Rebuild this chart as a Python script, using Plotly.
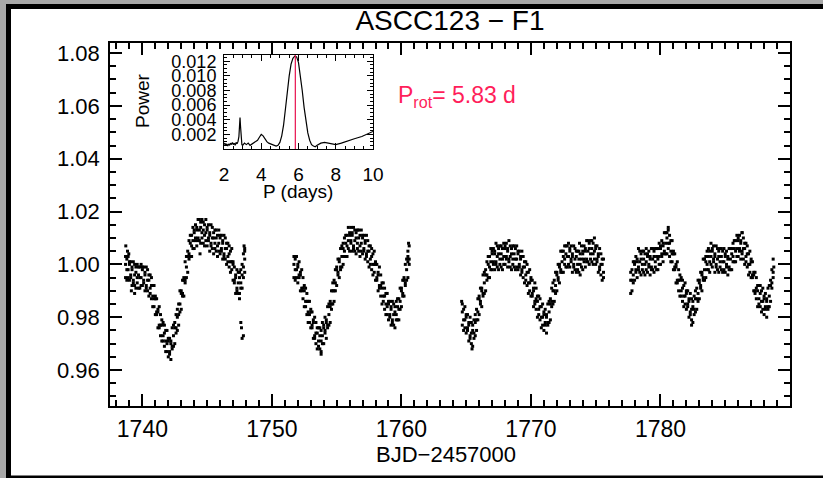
import plotly.graph_objects as go

# ---------------- light curve data (relative flux in ppt offset from 1.0) ----------------
time_s1 = [1738.7, 1738.8, 1738.9, 1739.0, 1739.1, 1739.2, 1739.3, 1739.4, 1739.5, 1739.6,
           1739.7, 1739.8, 1739.9, 1740.0, 1740.1, 1740.2, 1740.3, 1740.4, 1740.5, 1740.6,
           1740.7, 1740.8, 1740.9, 1741.0, 1741.1, 1741.2, 1741.3, 1741.4, 1741.5, 1741.6,
           1741.7, 1741.8, 1741.9, 1742.0, 1742.1, 1742.2, 1742.3, 1742.4, 1742.5, 1742.6,
           1742.7, 1742.8, 1742.9, 1743.0, 1743.1, 1743.2, 1743.3, 1743.4, 1743.5, 1743.6,
           1743.7, 1743.8, 1743.9, 1744.0, 1744.1, 1744.2, 1744.3, 1744.4, 1744.5, 1744.6,
           1744.7, 1744.8, 1744.9, 1745.0, 1745.1, 1745.2, 1745.3, 1745.4, 1745.5, 1745.6,
           1745.7, 1745.8, 1745.9, 1746.0, 1746.1, 1746.2, 1746.3, 1746.4, 1746.5, 1746.6,
           1746.7, 1746.8, 1746.9, 1747.0, 1747.1, 1747.2, 1747.3, 1747.4, 1747.5, 1747.6,
           1747.7, 1747.8, 1747.9]
hi_s1 = [3, 2, 3, 1, 1, -1, 1, 0, -1, 0,
         -1, -1, 0, -1, -1, -3, -1, -2, -4, -4,
         -5, -8, -8, -12, -13, -17, -16, -19, -21, -22,
         -23, -25, -25, -28, -28, -29, -24, -23, -22, -19,
         -17, -15, -10, -10, -6, -5, 1, 3, 5, 9,
         11, 11, 14, 13, 15, 14, 17, 17, 16, 17,
         16, 15, 17, 14, 15, 12, 15, 14, 12, 13,
         13, 11, 13, 11, 11, 9, 11, 10, 8, 8,
         7, 5, 6, 1, -1, -4, -2, -3, -3, -2,
         0, 4, 6]
mid_s1 = [0, -2, -2, 0, -4, -2, -6, -4, -3, -5,
          -4, -5, -5, -2, -6, -4, -8, -6, -6, -9,
          -8, -12, -13, -13, -18, -18, -23, -23, -23, -27,
          -26, -29, -30, -29, -33, -30, -31, -27, -24, -24,
          -20, -19, -15, -11, -11, -6, -6, -1, 3, 4,
          8, 7, 9, 12, 10, 13, 10, 13, 14, 12,
          13, 11, 12, 13, 10, 11, 8, 10, 10, 8,
          10, 7, 8, 10, 6, 8, 4, 6, 6, 3,
          4, 1, 1, 0, -6, -5, -9, -7, -5, -7,
          -4, -1, 2]
lo_s1 = [-5, -6, -5, -6, -5, -8, -7, -8, -9, -7,
         -9, -9, -8, -8, -7, -10, -9, -10, -12, -11,
         -13, -16, -16, -19, -19, -24, -24, -27, -29, -29,
         -31, -33, -33, -35, -34, -36, -32, -31, -30, -26,
         -25, -23, -18, -17, -12, -12, -7, -5, -3, 2,
         3, 3, 6, 6, 9, 7, 9, 9, 8, 10,
         8, 7, 9, 7, 9, 5, 7, 6, 4, 6,
         5, 3, 5, 4, 5, 2, 3, 2, 0, 1,
         -1, -3, -2, -6, -7, -11, -10, -11, -11, -9,
         -9, -5, -3]

time_s2 = [1751.7, 1751.8, 1751.9, 1752.0, 1752.1, 1752.2, 1752.3, 1752.4, 1752.5, 1752.6,
           1752.7, 1752.8, 1752.9, 1753.0, 1753.1, 1753.2, 1753.3, 1753.4, 1753.5, 1753.6,
           1753.7, 1753.8, 1753.9, 1754.0, 1754.1, 1754.2, 1754.3, 1754.4, 1754.5, 1754.6,
           1754.7, 1754.8, 1754.9, 1755.0, 1755.1, 1755.2, 1755.3, 1755.4, 1755.5, 1755.6,
           1755.7, 1755.8, 1755.9, 1756.0, 1756.1, 1756.2, 1756.3, 1756.4, 1756.5, 1756.6,
           1756.7, 1756.8, 1756.9, 1757.0, 1757.1, 1757.2, 1757.3, 1757.4, 1757.5, 1757.6,
           1757.7, 1757.8, 1757.9, 1758.0, 1758.1, 1758.2, 1758.3, 1758.4, 1758.5, 1758.6,
           1758.7, 1758.8, 1758.9, 1759.0, 1759.1, 1759.2, 1759.3, 1759.4, 1759.5, 1759.6,
           1759.7, 1759.8, 1759.9, 1760.0, 1760.1, 1760.2, 1760.3, 1760.4, 1760.5, 1760.6]
hi_s2 = [3, 2, 3, 0, 1, -3, -2, -5, -8, -9,
         -11, -14, -14, -17, -18, -21, -20, -22, -24, -24,
         -24, -25, -22, -23, -20, -21, -16, -15, -14, -10,
         -7, -6, -2, -1, 2, 2, 6, 7, 8, 10,
         11, 11, 14, 12, 14, 12, 14, 13, 12, 13,
         13, 11, 13, 11, 11, 9, 11, 9, 7, 7,
         6, 4, 5, 1, 0, -3, -1, -4, -7, -7,
         -9, -11, -11, -14, -14, -16, -14, -15, -16, -14,
         -13, -13, -9, -9, -6, -5, 0, 2, 3, 7]
mid_s2 = [0, -2, -2, -1, -4, -4, -9, -9, -10, -14,
          -14, -18, -19, -18, -23, -22, -27, -26, -26, -29,
          -27, -29, -27, -24, -25, -22, -23, -19, -16, -15,
          -10, -10, -7, -2, -3, 1, -1, 3, 6, 5,
          8, 7, 9, 11, 9, 11, 7, 9, 10, 8,
          10, 7, 8, 10, 6, 8, 4, 5, 5, 2,
          3, 0, 0, 0, -5, -4, -8, -8, -9, -12,
          -12, -15, -16, -15, -19, -17, -21, -19, -18, -19,
          -16, -17, -14, -10, -11, -6, -7, -2, 1, 2]
lo_s2 = [-5, -6, -5, -7, -5, -10, -10, -13, -16, -16,
         -19, -22, -22, -24, -24, -28, -28, -30, -32, -31,
         -32, -33, -30, -30, -26, -28, -24, -23, -22, -17,
         -15, -14, -10, -8, -4, -5, -2, -1, 0, 3,
         3, 3, 6, 5, 8, 5, 6, 5, 4, 6,
         5, 3, 5, 4, 5, 2, 3, 1, -1, 0,
         -2, -4, -3, -6, -6, -10, -9, -12, -15, -14,
         -17, -19, -19, -21, -20, -23, -22, -23, -24, -21,
         -21, -21, -17, -16, -12, -12, -8, -6, -5, 0]

time_s3 = [1764.7, 1764.8, 1764.9, 1765.0, 1765.1, 1765.2, 1765.3, 1765.4, 1765.5, 1765.6,
           1765.7, 1765.8, 1765.9, 1766.0, 1766.1, 1766.2, 1766.3, 1766.4, 1766.5, 1766.6,
           1766.7, 1766.8, 1766.9, 1767.0, 1767.1, 1767.2, 1767.3, 1767.4, 1767.5, 1767.6,
           1767.7, 1767.8, 1767.9, 1768.0, 1768.1, 1768.2, 1768.3, 1768.4, 1768.5, 1768.6,
           1768.7, 1768.8, 1768.9, 1769.0, 1769.1, 1769.2, 1769.3, 1769.4, 1769.5, 1769.6,
           1769.7, 1769.8, 1769.9, 1770.0, 1770.1, 1770.2, 1770.3, 1770.4, 1770.5, 1770.6,
           1770.7, 1770.8, 1770.9, 1771.0, 1771.1, 1771.2, 1771.3, 1771.4, 1771.5, 1771.6,
           1771.7, 1771.8, 1771.9, 1772.0, 1772.1, 1772.2, 1772.3, 1772.4, 1772.5, 1772.6,
           1772.7, 1772.8, 1772.9, 1773.0, 1773.1, 1773.2, 1773.3, 1773.4, 1773.5, 1773.6,
           1773.7, 1773.8, 1773.9, 1774.0, 1774.1, 1774.2, 1774.3, 1774.4, 1774.5, 1774.6,
           1774.7, 1774.8, 1774.9, 1775.0, 1775.1, 1775.2, 1775.3, 1775.4, 1775.5, 1775.6]
hi_s3 = [-15, -17, -16, -19, -19, -22, -20, -22, -23, -21,
         -19, -17, -13, -12, -9, -9, -4, -3, -2, 1,
         3, 3, 6, 5, 6, 5, 8, 7, 6, 7,
         7, 6, 8, 7, 8, 6, 9, 7, 6, 7,
         7, 6, 7, 5, 5, 3, 5, 3, 1, 1,
         0, -3, -2, -5, -6, -9, -7, -9, -12, -12,
         -13, -16, -15, -18, -17, -19, -15, -14, -13, -9,
         -7, -6, -3, -3, 0, 0, 5, 5, 5, 7,
         7, 7, 8, 6, 7, 4, 7, 6, 5, 5,
         5, 4, 7, 5, 7, 6, 9, 9, 8, 9,
         9, 8, 10, 7, 7, 4, 6, 4, 2, 2]
mid_s3 = [-18, -21, -21, -20, -24, -23, -27, -26, -25, -26,
          -22, -21, -18, -13, -14, -10, -11, -7, -4, -4,
          0, -1, 1, 4, 1, 4, 1, 3, 4, 2,
          4, 2, 3, 6, 3, 5, 2, 3, 4, 2,
          4, 2, 2, 4, 0, 2, -2, -1, -1, -4,
          -3, -7, -7, -6, -11, -10, -14, -13, -14, -17,
          -16, -20, -20, -19, -22, -20, -22, -18, -15, -14,
          -10, -10, -8, -4, -5, -1, -2, 1, 3, 2,
          4, 3, 3, 5, 2, 3, 0, 2, 3, 0,
          2, 0, 2, 4, 2, 5, 2, 5, 6, 4,
          6, 4, 5, 6, 2, 3, -1, 0, 0, -3]
lo_s3 = [-23, -25, -24, -26, -25, -29, -28, -30, -31, -28,
         -27, -25, -21, -19, -15, -16, -12, -11, -10, -6,
         -5, -5, -2, -2, 0, -2, 0, -1, -2, 0,
         -1, -2, 0, 0, 2, -1, 1, -1, -2, 0,
         -1, -2, -1, -2, -1, -4, -3, -5, -7, -6,
         -8, -11, -10, -12, -12, -16, -15, -17, -20, -19,
         -21, -24, -23, -25, -23, -26, -23, -22, -21, -16,
         -15, -14, -11, -10, -6, -7, -3, -3, -3, 0,
         -1, -1, 0, -1, 1, -3, -1, -2, -3, -2,
         -3, -4, -1, -2, 1, -1, 1, 1, 0, 2,
         1, 0, 2, 0, 1, -3, -2, -4, -6, -5]

time_s4 = [1777.7, 1777.8, 1777.9, 1778.0, 1778.1, 1778.2, 1778.3, 1778.4, 1778.5, 1778.6,
           1778.7, 1778.8, 1778.9, 1779.0, 1779.1, 1779.2, 1779.3, 1779.4, 1779.5, 1779.6,
           1779.7, 1779.8, 1779.9, 1780.0, 1780.1, 1780.2, 1780.3, 1780.4, 1780.5, 1780.6,
           1780.7, 1780.8, 1780.9, 1781.0, 1781.1, 1781.2, 1781.3, 1781.4, 1781.5, 1781.6,
           1781.7, 1781.8, 1781.9, 1782.0, 1782.1, 1782.2, 1782.3, 1782.4, 1782.5, 1782.6,
           1782.7, 1782.8, 1782.9, 1783.0, 1783.1, 1783.2, 1783.3, 1783.4, 1783.5, 1783.6,
           1783.7, 1783.8, 1783.9, 1784.0, 1784.1, 1784.2, 1784.3, 1784.4, 1784.5, 1784.6,
           1784.7, 1784.8, 1784.9, 1785.0, 1785.1, 1785.2, 1785.3, 1785.4, 1785.5, 1785.6,
           1785.7, 1785.8, 1785.9, 1786.0, 1786.1, 1786.2, 1786.3, 1786.4, 1786.5, 1786.6,
           1786.7, 1786.8, 1786.9, 1787.0, 1787.1, 1787.2, 1787.3, 1787.4, 1787.5, 1787.6,
           1787.7, 1787.8, 1787.9, 1788.0, 1788.1, 1788.2, 1788.3, 1788.4, 1788.5, 1788.6,
           1788.7]
hi_s4 = [-3, -2, 1, 1, 3, 2, 6, 5, 4, 5,
         5, 4, 6, 4, 5, 3, 6, 6, 5, 6,
         6, 6, 8, 7, 9, 8, 12, 12, 12, 13,
         11, 9, 9, 5, 4, 0, 1, -2, -4, -5,
         -6, -8, -7, -10, -10, -13, -11, -13, -14, -12,
         -10, -9, -6, -6, -3, -3, 2, 2, 3, 5,
         6, 5, 8, 6, 7, 4, 7, 6, 5, 6,
         6, 5, 6, 4, 5, 3, 6, 6, 6, 8,
         9, 9, 11, 10, 11, 9, 12, 10, 8, 8,
         7, 4, 5, 2, 1, -3, -3, -5, -8, -8,
         -8, -10, -9, -12, -11, -13, -9, -8, -6, -2,
         2]
mid_s4 = [-6, -6, -4, 0, -2, 1, -1, 1, 2, 0,
          2, 0, 1, 3, 0, 2, -1, 2, 3, 1,
          3, 2, 3, 6, 4, 7, 5, 8, 10, 8,
          8, 5, 4, 4, -1, -1, -6, -6, -6, -10,
          -9, -12, -12, -11, -15, -14, -18, -17, -16, -17,
          -13, -13, -11, -7, -8, -4, -5, -2, 1, 0,
          3, 1, 3, 5, 2, 3, 0, 2, 3, 1,
          3, 1, 1, 3, 0, 2, -1, 2, 4, 3,
          6, 5, 6, 9, 6, 8, 5, 6, 6, 3,
          4, 0, 0, 1, -4, -4, -10, -9, -10, -13,
          -11, -14, -14, -13, -16, -14, -16, -12, -8, -7,
          -3]
lo_s4 = [-11, -10, -7, -6, -3, -5, -2, -3, -4, -2,
         -3, -4, -2, -3, -1, -4, -2, -2, -3, -1,
         -2, -2, 0, 0, 3, 1, 4, 4, 4, 6,
         3, 1, 1, -2, -2, -7, -7, -10, -12, -12,
         -14, -16, -15, -17, -16, -20, -19, -21, -22, -19,
         -18, -17, -14, -13, -9, -10, -6, -6, -5, -2,
         -2, -3, 0, -1, 1, -3, -1, -2, -3, -1,
         -2, -3, -2, -3, -1, -4, -2, -2, -2, 1,
         1, 1, 3, 3, 5, 2, 4, 2, 0, 1,
         -1, -4, -3, -5, -5, -10, -11, -13, -16, -15,
         -16, -18, -17, -19, -17, -20, -17, -16, -14, -9,
         -5]

outlier_time = [1738.72, 1738.85, 1738.95, 1739.15, 1739.4, 1744.45, 1747.5, 1747.6, 1747.65,
                1747.7, 1747.8, 1747.85, 1747.9, 1751.75, 1753.8, 1760.5, 1760.55, 1764.65,
                1765.45, 1773.75, 1780.6, 1782.4, 1786.3, 1788.75]
outlier_ppt = [7, 5, 4, -10, -11, 4, -13, -22, -24, -28, -27, 7, 5, 3, -34, 5, 8, -14,
               -32, 8, 14, -23, 12, -1]

# ---------------- periodogram (inset) ----------------
period_days = [2.0, 2.05, 2.1, 2.15, 2.2, 2.25, 2.3, 2.35, 2.4, 2.45, 2.5, 2.55, 2.6, 2.65,
               2.7, 2.75, 2.8, 2.83, 2.86, 2.89, 2.92, 2.96, 3.0, 3.1, 3.2, 3.3, 3.4, 3.5,
               3.6, 3.7, 3.8, 3.9, 4.0, 4.1, 4.2, 4.3, 4.4, 4.5, 4.6, 4.7, 4.8, 4.9, 5.0,
               5.1, 5.2, 5.3, 5.4, 5.5, 5.6, 5.7, 5.8, 5.85, 5.9, 6.0, 6.1, 6.2, 6.3, 6.4,
               6.5, 6.6, 6.7, 6.8, 6.9, 7.0, 7.2, 7.4, 7.6, 7.8, 8.0, 8.3, 8.6, 9.0, 9.4,
               9.8, 10.0]
power_e4 = [6, 8, 5, 7, 4, 7, 5, 8, 6, 9, 6, 8, 5, 9,
            7, 10, 17, 32, 43, 30, 12, 6, 5, 8, 6, 8, 5, 7,
            9, 10, 12, 16, 20, 18, 13, 10, 8, 7, 5, 4, 4, 5, 9,
            18, 33, 55, 79, 100, 116, 124, 127, 127, 126, 118, 102, 80, 57, 37,
            22, 12, 6, 4, 3, 5, 8, 9, 8, 6, 6, 8, 11, 14, 17,
            21, 24]
P_rot = 5.83

main_xticks = [1740, 1750, 1760, 1770, 1780]
main_yticks = [0.96, 0.98, 1.00, 1.02, 1.04, 1.06, 1.08]
inset_xticks = [2, 4, 6, 8, 10]
inset_yticks = [0.002, 0.004, 0.006, 0.008, 0.010, 0.012]

# ---------------- assemble ----------------
times = time_s1 + time_s2 + time_s3 + time_s4
highs = hi_s1 + hi_s2 + hi_s3 + hi_s4
mids = mid_s1 + mid_s2 + mid_s3 + mid_s4
lows = lo_s1 + lo_s2 + lo_s3 + lo_s4
xs = times * 3 + outlier_time
ys = [1 + v / 1000.0 for v in (highs + mids + lows + outlier_ppt)]
power = [p / 10000.0 for p in power_e4]

W, H = 823, 478
L, R, T, B = 110, 790, 43, 406  # plot area in pixels
def px(x):
    return (x - L) / (R - L)
def py(y):
    return (B - y) / (B - T)

FONT = "Liberation Sans"

fig = go.Figure()
fig.add_trace(go.Scatter(x=xs, y=ys, mode="markers",
                         marker=dict(color="black", size=3, symbol="square", line=dict(width=0)),
                         xaxis="x", yaxis="y", hoverinfo="skip", showlegend=False))
fig.add_trace(go.Scatter(x=period_days, y=power, mode="lines",
                         line=dict(color="black", width=1.2),
                         xaxis="x2", yaxis="y2", hoverinfo="skip", showlegend=False))

axis_common = dict(showline=True, linecolor="black", linewidth=1.5, mirror="ticks",
                   ticks="inside", tickcolor="black", tickwidth=1.5, ticklen=12,
                   showgrid=False, zeroline=False, color="black")

fig.update_layout(
    width=W, height=H,
    margin=dict(l=L, r=W - R, t=T, b=H - B, pad=0),
    paper_bgcolor="white", plot_bgcolor="white",
    font=dict(family=FONT, color="black"),
    showlegend=False,
    title=dict(text="ASCC123 \u2212 F1", x=0.5, xref="paper", xanchor="center",
               y=1 - 20 / H, yref="container", yanchor="middle",
               font=dict(size=28, family=FONT, color="black")),
    xaxis=dict(**axis_common, domain=[0, 1], range=[1737.5, 1790.0],
               tickvals=main_xticks, tickfont=dict(size=23, family=FONT),
               ticklabelstandoff=2,
               minor=dict(dtick=1, tick0=1740, ticks="inside", ticklen=6,
                          tickcolor="black", tickwidth=1.5)),
    yaxis=dict(**axis_common, domain=[0, 1], range=[0.9464, 1.0838],
               tickvals=main_yticks, tickformat=".2f", tickfont=dict(size=22, family=FONT),
               ticklabelstandoff=4,
               minor=dict(dtick=0.005, tick0=0.96, ticks="inside", ticklen=6,
                          tickcolor="black", tickwidth=1.5)),
    xaxis2=dict(showline=True, linecolor="black", linewidth=1, mirror="ticks",
                ticks="inside", tickcolor="black", tickwidth=1, ticklen=6,
                showgrid=False, zeroline=False, anchor="y2",
                domain=[px(224), px(373)], range=[2, 10], tickvals=inset_xticks,
                tickfont=dict(size=19, family=FONT), ticklabelstandoff=8,
                minor=dict(dtick=0.5, tick0=2, ticks="inside", ticklen=3,
                           tickcolor="black", tickwidth=1)),
    yaxis2=dict(showline=True, linecolor="black", linewidth=1, mirror="ticks",
                ticks="inside", tickcolor="black", tickwidth=1, ticklen=6,
                showgrid=False, zeroline=False, anchor="x2",
                domain=[py(149), py(55)], range=[0.0, 0.01285], tickvals=inset_yticks,
                tickformat=".3f", tickfont=dict(size=18, family=FONT), ticklabelstandoff=3,
                minor=dict(dtick=0.0005, tick0=0, ticks="inside", ticklen=3,
                           tickcolor="black", tickwidth=1)),
)

# rotation period marker in inset
fig.add_shape(type="line", xref="x2", yref="y2 domain", x0=P_rot, x1=P_rot, y0=0, y1=1,
              line=dict(color="#e8124f", width=1.2))

# text annotations
fig.add_annotation(text="P<sub>rot</sub>= %.2f d" % P_rot, xref="paper", yref="paper",
                   x=px(396), y=py(96), xanchor="left", yanchor="middle", showarrow=False,
                   font=dict(size=23, color="#ff1e5a", family=FONT))
fig.add_annotation(text="Power", xref="paper", yref="paper", x=px(143), y=py(101),
                   textangle=-90, showarrow=False, xanchor="center", yanchor="middle",
                   font=dict(size=19, family=FONT, color="black"))
fig.add_annotation(text="P (days)", xref="paper", yref="paper", x=px(298), y=py(191),
                   showarrow=False, xanchor="center", yanchor="middle",
                   font=dict(size=19, family=FONT, color="black"))
fig.add_annotation(text="BJD\u22122457000", xref="paper", yref="paper", x=px(446), y=py(455),
                   showarrow=False, xanchor="center", yanchor="middle",
                   font=dict(size=22, family=FONT, color="black"))

# window frame (grey surround + black border)
frame = [
    ("#a8a8a8", 0, 0, 6, H),
    ("#a8a8a8", 0, 0, W, 4),
    ("black", 6, 4, 11, H),
    ("black", 6, 4, W, 9),
    ("black", 6, 475.5, W, H),
]
for col, x0, y0, x1, y1 in frame:
    fig.add_shape(type="rect", xref="paper", yref="paper",
                  x0=px(x0), x1=px(x1), y0=py(y1), y1=py(y0),
                  fillcolor=col, line=dict(width=0), layer="above")

fig.write_html("out.html")
